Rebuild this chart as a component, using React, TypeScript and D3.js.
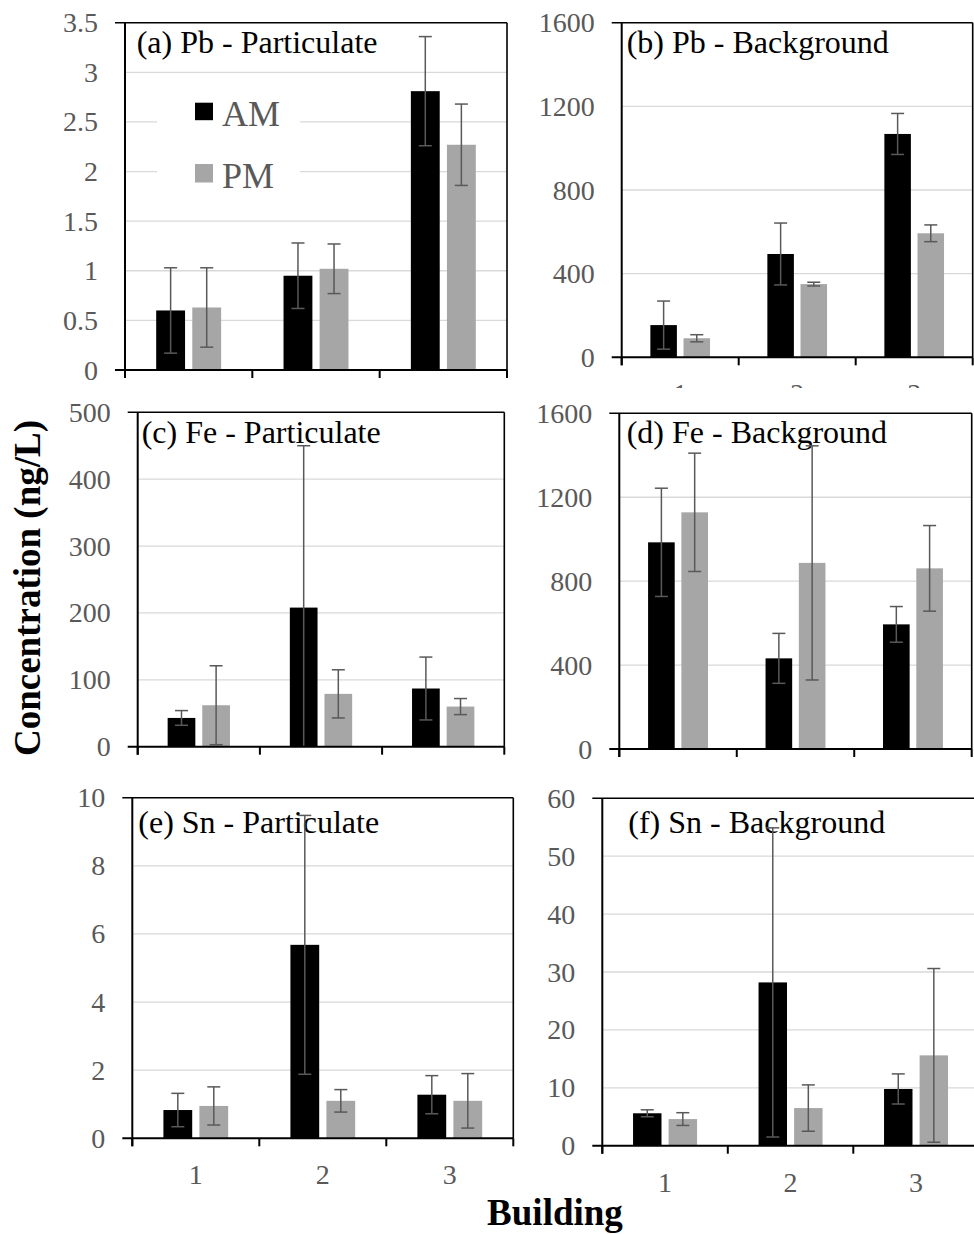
import React from "react";
import * as d3 from "d3";

// ---------- data ----------
const buildings = ["1", "2", "3"];
const seriesNames = ["AM", "PM"];

const pbPartAM = [0.6, 0.95, 2.81];
const pbPartAMErr = [0.43, 0.33, 0.55];
const pbPartPM = [0.63, 1.02, 2.27];
const pbPartPMErr = [0.4, 0.25, 0.41];

const pbBackAM = [154, 494, 1068];
const pbBackAMErr = [115, 148, 98];
const pbBackPM = [91, 350, 593];
const pbBackPMErr = [17, 9, 40];

const fePartAM = [43, 208, 87];
const fePartAMErr = [11, 242, 47];
const fePartPM = [62, 79, 60];
const fePartPMErr = [59, 36, 12];

const feBackAM = [985, 432, 594];
const feBackAMErr = [258, 119, 85];
const feBackPM = [1128, 887, 861];
const feBackPMErr = [282, 558, 204];

const snPartAM = [0.83, 5.68, 1.28];
const snPartAMErr = [0.49, 3.8, 0.56];
const snPartPM = [0.95, 1.1, 1.1];
const snPartPMErr = [0.56, 0.33, 0.8];

const snBackAM = [5.6, 28.2, 9.8];
const snBackAMErr = [0.6, 26.7, 2.6];
const snBackPM = [4.6, 6.5, 15.6];
const snBackPMErr = [1.1, 4.0, 15];

const pbPartTicks = [0, 0.5, 1, 1.5, 2, 2.5, 3, 3.5];
const pbBackTicks = [0, 400, 800, 1200, 1600];
const fePartTicks = [0, 100, 200, 300, 400, 500];
const feBackTicks = [0, 400, 800, 1200, 1600];
const snPartTicks = [0, 2, 4, 6, 8, 10];
const snBackTicks = [0, 10, 20, 30, 40, 50, 60];

const titles = [
  "(a) Pb - Particulate",
  "(b) Pb - Background",
  "(c) Fe - Particulate",
  "(d) Fe - Background",
  "(e) Sn - Particulate",
  "(f) Sn - Background",
];

// ---------- layout ----------
const layout = [
  { left: 125, right: 507, top: 22.7, bottom: 370, tx: 136.7, ty: 53.3, clip: 388, legend: true },
  { left: 621.7, right: 972.7, top: 22.7, bottom: 357.3, tx: 626.7, ty: 53.3, clip: 388, legend: false },
  { left: 137.7, right: 504.3, top: 412.3, bottom: 746.7, tx: 141.7, ty: 443.3, clip: 765, legend: false },
  { left: 619.3, right: 971.7, top: 413.3, bottom: 749, tx: 626.7, ty: 443.3, clip: 765, legend: false },
  { left: 132.3, right: 513.3, top: 797.7, bottom: 1138.3, tx: 138.3, ty: 833.3, clip: 1234, legend: false },
  { left: 602.3, right: 978.8, top: 798.3, bottom: 1145.7, tx: 628.3, ty: 833.3, clip: 1234, legend: false },
];

const panelData = [
  { am: pbPartAM, amErr: pbPartAMErr, pm: pbPartPM, pmErr: pbPartPMErr, ticks: pbPartTicks },
  { am: pbBackAM, amErr: pbBackAMErr, pm: pbBackPM, pmErr: pbBackPMErr, ticks: pbBackTicks },
  { am: fePartAM, amErr: fePartAMErr, pm: fePartPM, pmErr: fePartPMErr, ticks: fePartTicks },
  { am: feBackAM, amErr: feBackAMErr, pm: feBackPM, pmErr: feBackPMErr, ticks: feBackTicks },
  { am: snPartAM, amErr: snPartAMErr, pm: snPartPM, pmErr: snPartPMErr, ticks: snPartTicks },
  { am: snBackAM, amErr: snBackAMErr, pm: snBackPM, pmErr: snBackPMErr, ticks: snBackTicks },
];

const FONT = "'Liberation Serif', 'Times New Roman', Times, serif";
const COLORS = ["#000000", "#a6a6a6"];
const TEXT_GREY = "#595959";
const ERR_COLOR = "#595959";
const GRID = "#d9d9d9";

function Panel({ idx }: { idx: number }) {
  const L = layout[idx];
  const D = panelData[idx];
  const yMax = D.ticks[D.ticks.length - 1];
  const y = d3.scaleLinear().domain([0, yMax]).range([L.bottom, L.top]);
  const x = d3.scaleBand<string>().domain(buildings).range([L.left, L.right]).paddingInner(0).paddingOuter(0);
  const groupW = x.bandwidth() * 0.51;
  const inner = d3
    .scaleBand<string>()
    .domain(seriesNames)
    .range([0, groupW])
    .paddingInner(0.2)
    .paddingOuter(0);
  const values = [D.am, D.pm];
  const errs = [D.amErr, D.pmErr];
  const clipId = `clip-${idx}`;
  const boundaries = [0, 1, 2, 3].map((i) => L.left + i * x.bandwidth());
  const capW = 13;
  const labelTop = L.bottom + 46;
  const showXLabels = L.bottom + 27 < L.clip;

  return (
    <g>
      <defs>
        <clipPath id={clipId}>
          <rect x={L.left - 60} y={L.bottom} width={L.right - L.left + 120} height={L.clip - L.bottom} />
        </clipPath>
      </defs>
      {/* gridlines */}
      {D.ticks
        .filter((t) => t > 0 && t < yMax)
        .map((t) => (
          <line key={"g" + t} x1={L.left} x2={L.right} y1={y(t)} y2={y(t)} stroke={GRID} strokeWidth={1.3} />
        ))}
      {/* legend */}
      {L.legend && (
        <g>
          <rect x={157} y={88} width={143} height={112} fill="#ffffff" />
          <rect x={195} y={102.7} width={18} height={17.5} fill={COLORS[0]} />
          <text x={222} y={126} fontFamily={FONT} fontSize={36} fill={TEXT_GREY}>
            {seriesNames[0]}
          </text>
          <rect x={195} y={164} width={18} height={18.5} fill={COLORS[1]} />
          <text x={222} y={188} fontFamily={FONT} fontSize={36} fill={TEXT_GREY}>
            {seriesNames[1]}
          </text>
        </g>
      )}
      {/* bars */}
      {buildings.map((b, i) => {
        const gx = (x(b) as number) + (x.bandwidth() - groupW) / 2;
        return seriesNames.map((s, si) => {
          const v = values[si][i];
          const bx = gx + (inner(s) as number);
          return (
            <rect
              key={b + s}
              x={bx}
              y={y(v)}
              width={inner.bandwidth()}
              height={y(0) - y(v)}
              fill={COLORS[si]}
            />
          );
        });
      })}
      {/* title */}
      <text x={L.tx} y={L.ty} fontFamily={FONT} fontSize={32} fill="#000">
        {titles[idx]}
      </text>
      {/* error bars */}
      {buildings.map((b, i) => {
        const gx = (x(b) as number) + (x.bandwidth() - groupW) / 2;
        return seriesNames.map((s, si) => {
          const v = values[si][i];
          const e = errs[si][i];
          const cx = gx + (inner(s) as number) + inner.bandwidth() / 2;
          const hi = v + e;
          const lo = Math.max(0, v - e);
          const loClamped = v - e < 0;
          return (
            <g key={"e" + b + s} stroke={ERR_COLOR} strokeWidth={1.5}>
              <line x1={cx} x2={cx} y1={y(hi)} y2={y(lo)} />
              <line x1={cx - capW / 2} x2={cx + capW / 2} y1={y(hi)} y2={y(hi)} />
              {!loClamped && <line x1={cx - capW / 2} x2={cx + capW / 2} y1={y(lo)} y2={y(lo)} />}
            </g>
          );
        });
      })}
      {/* plot border top/right */}
      <line x1={L.left - 10} x2={L.right} y1={L.top} y2={L.top} stroke="#000" strokeWidth={1.6} />
      <line x1={L.right} x2={L.right} y1={L.top} y2={L.bottom} stroke="#000" strokeWidth={1.6} />
      {/* axes */}
      <line x1={L.left} x2={L.left} y1={L.top} y2={L.bottom + 8} stroke="#000" strokeWidth={2} />
      <line x1={L.left - 10} x2={L.right} y1={L.bottom} y2={L.bottom} stroke="#000" strokeWidth={2} />
      {boundaries.map((bx, i) => (
        <line key={"t" + i} x1={bx} x2={bx} y1={L.bottom} y2={L.bottom + 8} stroke="#000" strokeWidth={2} />
      ))}
      {/* y tick labels */}
      {D.ticks.map((t) => (
        <text
          key={"yl" + t}
          x={L.left - 27}
          y={y(t)}
          dy="0.34em"
          textAnchor="end"
          fontFamily={FONT}
          fontSize={28}
          fill={TEXT_GREY}
        >
          {String(t)}
        </text>
      ))}
      {/* x tick labels (partly hidden under the next row in the upper panels) */}
      {showXLabels && (
        <g clipPath={`url(#${clipId})`}>
          {buildings.map((b) => (
            <text
              key={"xl" + b}
              x={(x(b) as number) + x.bandwidth() / 2}
              y={labelTop}
              textAnchor="middle"
              fontFamily={FONT}
              fontSize={28}
              fill={TEXT_GREY}
            >
              {b}
            </text>
          ))}
        </g>
      )}
    </g>
  );
}

export default function App() {
  return (
    <svg
      width={974}
      height={1234}
      viewBox="0 0 974 1234"
      style={{ position: "absolute", left: 0, top: 0, background: "#fff" }}
    >
      <rect x={0} y={0} width={974} height={1234} fill="#fff" />
      {layout.map((_, i) => (
        <Panel key={i} idx={i} />
      ))}
      <text
        transform="translate(40,588) rotate(-90)"
        textAnchor="middle"
        fontFamily={FONT}
        fontWeight="bold"
        fontSize={37}
        fill="#000"
      >
        Concentration (ng/L)
      </text>
      <text x={555} y={1225} textAnchor="middle" fontFamily={FONT} fontWeight="bold" fontSize={37} fill="#000">
        Building
      </text>
    </svg>
  );
}
